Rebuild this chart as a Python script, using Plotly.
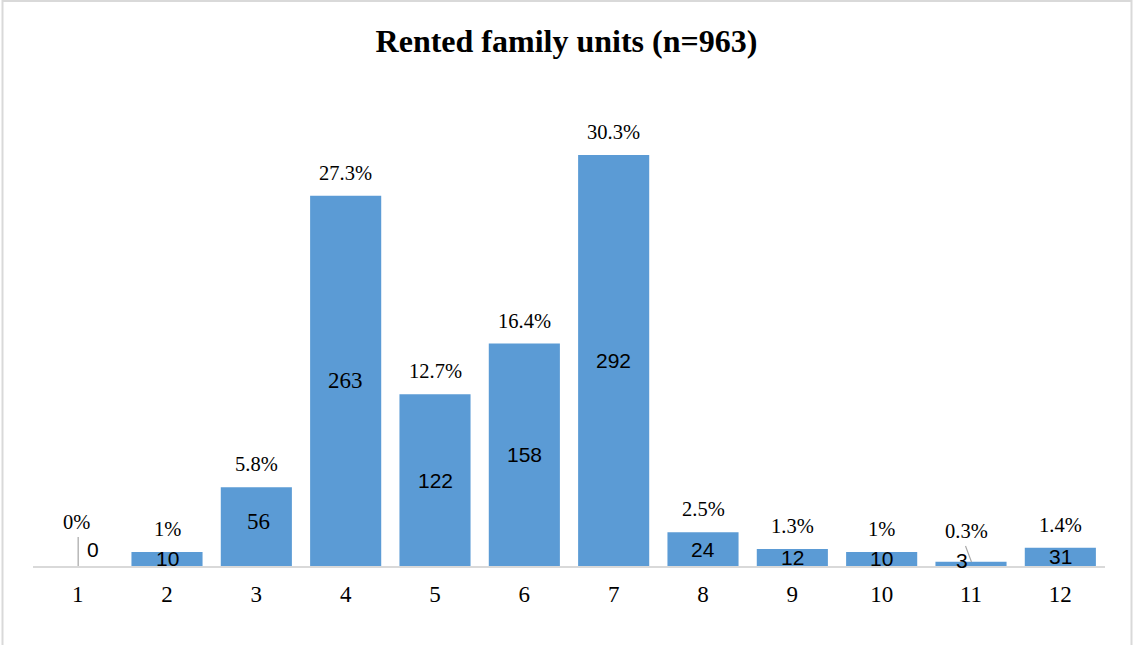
import plotly.graph_objects as go

# ---- data ----
categories = [1, 2, 3, 4, 5, 6, 7, 8, 9, 10, 11, 12]
units = [0, 10, 56, 263, 122, 158, 292, 24, 12, 10, 3, 13]
value_labels = ["0", "10", "56", "263", "122", "158", "292", "24", "12", "10", "3", "31"]
pct_labels = ["0%", "1%", "5.8%", "27.3%", "12.7%", "16.4%", "30.3%", "2.5%", "1.3%", "1%", "0.3%", "1.4%"]
title_text = "Rented family units (n=963)"

# ---- styling ----
W, H = 1133, 645
L, R, T, B = 33, 28, 100, 79
PX_PER_UNIT = 411 / 292.0
plot_h = H - T - B
plot_w = W - L - R
ymax = plot_h / PX_PER_UNIT

SERIF = "Liberation Serif, Times New Roman, serif"
SANS = "Liberation Sans, Arial, sans-serif"
BAR = "#5B9BD5"
GRID = "#D9D9D9"

pct_yshift = [44, 23, 23, 23, 23, 23, 23, 23, 23, 23, 31, 23]
pct_xshift = [-1, 0, 0, 0, 0, 0, 0, 0, 0, 0, -5, 0]
val_xshift = [15, 0, 2, 0, 0, 0, 0, 0, 0, 0, -9, 0]
val_yshift = [17, 0, 5, 0, 0, 0, 0, 0, 0, 0, 3, 0]
val_font = [SANS, SANS, SERIF, SERIF, SANS, SANS, SANS, SANS, SANS, SANS, SANS, SANS]

fig = go.Figure()
fig.add_trace(go.Bar(
    x=categories, y=units,
    marker=dict(color=BAR, line=dict(width=0)),
    width=0.796, hoverinfo="skip", showlegend=False,
))

annotations = []
for i, (c, v) in enumerate(zip(categories, units)):
    annotations.append(dict(
        x=c, y=v, xref="x", yref="y", text=pct_labels[i], showarrow=False,
        yanchor="middle", xanchor="center", yshift=pct_yshift[i], xshift=pct_xshift[i],
        font=dict(family=SERIF, size=20.5, color="#000000"),
    ))
    annotations.append(dict(
        x=c, y=v / 2.0, xref="x", yref="y", text=value_labels[i], showarrow=False,
        yanchor="middle", xanchor="center", yshift=val_yshift[i], xshift=val_xshift[i],
        font=dict(family=val_font[i], size=23 if val_font[i] == SERIF else 21, color="#000000"),
    ))

shapes = [
    # leader line for "0"
    dict(type="line", xref="x", yref="y", xsizemode="pixel", ysizemode="pixel",
         xanchor=categories[0], yanchor=0, x0=0.5, x1=0.5, y0=0, y1=29,
         line=dict(color="#A6A6A6", width=1.2)),
    # leader line for "3"
    dict(type="line", xref="x", yref="y", xsizemode="pixel", ysizemode="pixel",
         xanchor=categories[10], yanchor=0, x0=-5.5, x1=0.5, y0=20, y1=4,
         line=dict(color="#A6A6A6", width=1.2)),
    # outer chart border
    dict(type="rect", xref="paper", yref="paper",
         x0=(2.5 - L) / plot_w, x1=(W - 1.5 - L) / plot_w,
         y0=(H - B - (H + 10)) / plot_h, y1=(H - B - 1) / plot_h,
         line=dict(color=GRID, width=2), fillcolor="rgba(0,0,0,0)", layer="below"),
]

fig.update_layout(
    width=W, height=H,
    margin=dict(l=L, r=R, t=T, b=B),
    paper_bgcolor="white", plot_bgcolor="white",
    title=dict(text="<b>" + title_text + "</b>", x=0.5, xref="container", xanchor="center",
               y=1 - 41 / H, yref="container", yanchor="middle",
               font=dict(family=SERIF, size=32, color="#000000")),
    xaxis=dict(range=[0.5, 12.5], tickmode="array", tickvals=categories,
               ticktext=[str(c) for c in categories], showline=True, linecolor=GRID,
               linewidth=2, ticks="", showgrid=False, zeroline=False,
               tickfont=dict(family=SERIF, size=23, color="#000000"),
               ticklabelstandoff=6, fixedrange=True),
    yaxis=dict(range=[0, ymax], visible=False, showgrid=False, zeroline=False, fixedrange=True),
    annotations=annotations, shapes=shapes, bargap=0.2,
)

fig.write_html("out.html", config={"displayModeBar": False},
               post_script="document.body.style.margin='0';")
